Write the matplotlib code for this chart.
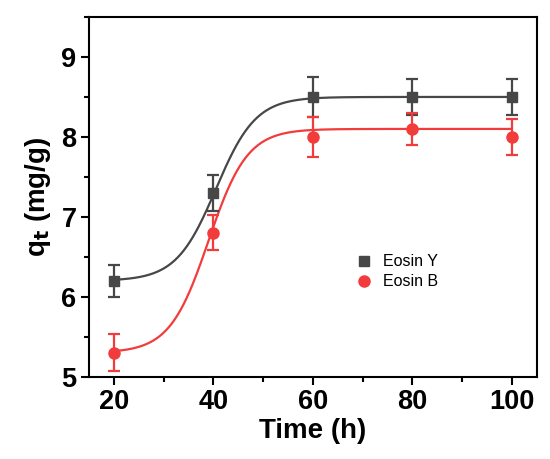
"""
Cinética de adsorción de Eosin Y y Eosin B con ajuste sigmoidal
"""

import numpy as np
import matplotlib
matplotlib.use('Agg')
import matplotlib.pyplot as plt
from matplotlib.ticker import MultipleLocator

# datos experimentales
time_h = [20, 40, 60, 80, 100]
qt_eosin_y = [6.2, 7.3, 8.5, 8.5, 8.5]
err_eosin_y = [0.2, 0.22, 0.25, 0.23, 0.22]
qt_eosin_b = [5.3, 6.8, 8.0, 8.1, 8.0]
err_eosin_b = [0.23, 0.22, 0.25, 0.2, 0.22]

# parámetros del ajuste Boltzmann (A1, A2, x0, dx)
fit_eosin_y = (6.2, 8.5, 40.5, 4.0)
fit_eosin_b = (5.3, 8.1, 39.0, 3.9)

GRAY = '#474747'
RED = '#f23c3c'

plt.rcParams['font.family'] = ['Liberation Sans', 'DejaVu Sans']


def boltzmann(x, a1, a2, x0, dx):
    return a2 + (a1 - a2) / (1 + np.exp((x - x0) / dx))


fig = plt.figure(figsize=(5.5, 4.59), dpi=100)
ax = fig.add_axes([0.162, 0.179, 0.814, 0.784])

x_fit = np.linspace(20, 100, 400)
ax.plot(x_fit, boltzmann(x_fit, *fit_eosin_y), color=GRAY, lw=1.6, zorder=2)
ax.plot(x_fit, boltzmann(x_fit, *fit_eosin_b), color=RED, lw=1.6, zorder=2)

ax.errorbar(time_h, qt_eosin_y, yerr=err_eosin_y, fmt='s', color=GRAY, ms=6.5,
            elinewidth=1.6, capsize=4, capthick=1.6, label='Eosin Y', zorder=3)
ax.errorbar(time_h, qt_eosin_b, yerr=err_eosin_b, fmt='o', color=RED, ms=8,
            elinewidth=1.6, capsize=4, capthick=1.6, label='Eosin B', zorder=3)

ax.set_xlim(15, 105)
ax.set_ylim(5, 9.5)
ax.xaxis.set_major_locator(MultipleLocator(20))
ax.xaxis.set_minor_locator(MultipleLocator(10))
ax.yaxis.set_major_locator(MultipleLocator(1))
ax.yaxis.set_minor_locator(MultipleLocator(0.5))

for s in ax.spines.values():
    s.set_linewidth(1.5)
ax.tick_params(which='major', direction='out', length=6, width=1.5, labelsize=19.5, pad=3)
ax.tick_params(which='minor', direction='out', length=3.5, width=1.5)
for lab in ax.get_xticklabels() + ax.get_yticklabels():
    lab.set_fontweight('bold')

ax.set_xlabel('Time (h)', fontsize=20, fontweight='bold', labelpad=2)
ax.set_ylabel('q$_\\mathbf{t}$ (mg/g)', fontsize=20, fontweight='bold', labelpad=6)

handles, labels = ax.get_legend_handles_labels()
handles = [h[0] for h in handles]
ax.legend(handles, labels, loc='upper left', bbox_to_anchor=(0.56, 0.38), frameon=False,
          fontsize=11.5, handletextpad=0.6, handlelength=1.2, labelspacing=0.3)

fig.savefig('out.png', dpi=100)
